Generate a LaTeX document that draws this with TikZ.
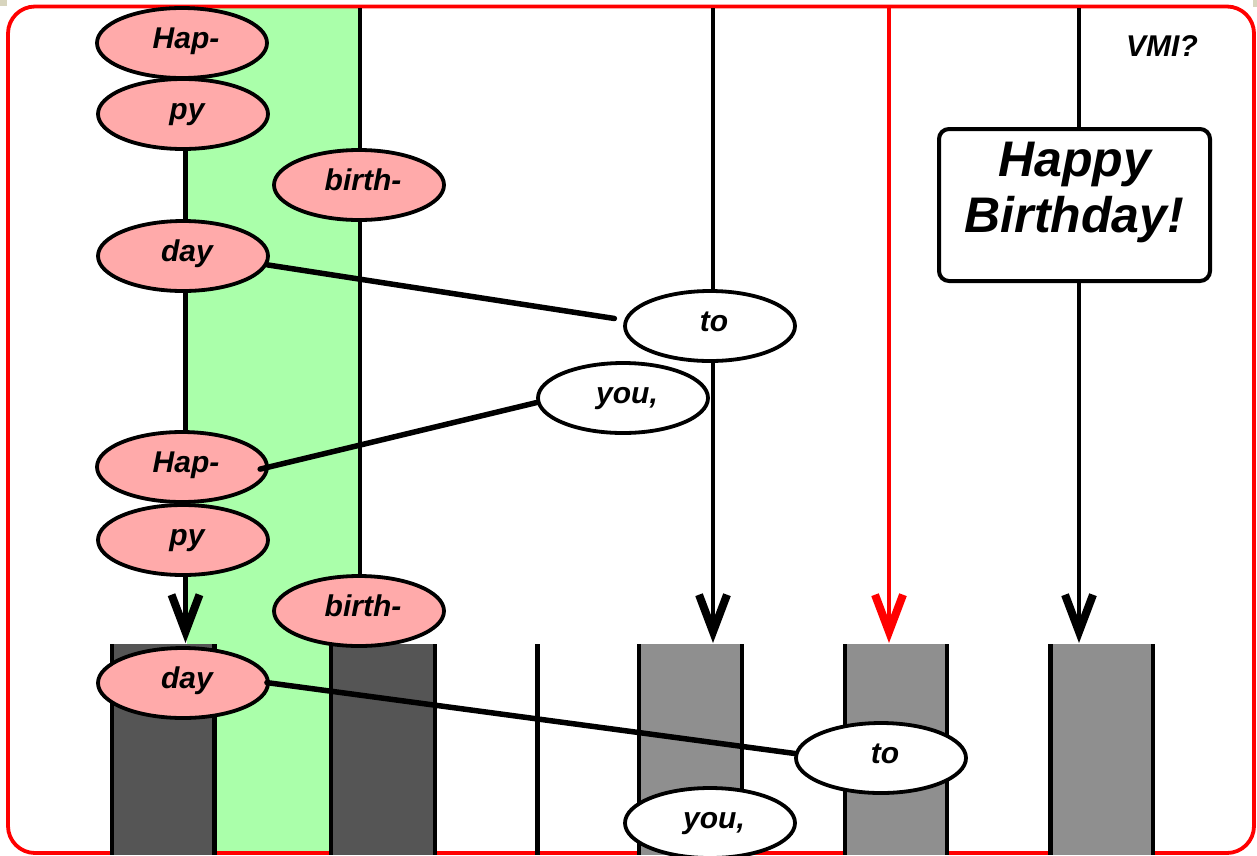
\documentclass[tikz,border=0pt]{standalone}
\usepackage{fontspec}
\setmainfont{Liberation Sans}
\usetikzlibrary{arrows.meta,shapes.geometric}
\definecolor{pinkfill}{HTML}{FFAAAA}
\definecolor{greenband}{HTML}{AAFFAA}
\definecolor{darkbar}{HTML}{555555}
\definecolor{lightbar}{HTML}{8F8F8F}
\definecolor{beige}{HTML}{D8D5BE}
\begin{document}
\begin{tikzpicture}[x=1pt,y=-1pt,
  word/.style={ellipse,draw=black,line width=3.8pt,minimum width=170pt,minimum height=70pt,inner sep=0pt,
    text height=20pt,text depth=10pt,execute at begin node={\hspace*{8pt}},
    font=\fontsize{30}{32}\selectfont\bfseries\itshape},
  pinkword/.style={word,fill=pinkfill},
  whiteword/.style={word,fill=white},
  vline/.style={line width=4.8pt},
  arrowline/.style={vline,-{Straight Barb[sharp,length=37pt,width=28pt,line width=8pt]}},
  conn/.style={line width=5.5pt,line cap=round},
  baredge/.style={line width=4.8pt},
  frame/.style={draw=red,line width=3.8pt,rounded corners=27pt},
]
\useasboundingbox (0,0) rectangle (1257,855);
% corner specks
\fill[beige] (0,0) rectangle (7,6);
\fill[beige] (1253,0) rectangle (1257,7);
% green band
\fill[greenband] (187,7) rectangle (360,855);
% frame
\draw[frame] (8,6.5) rectangle (1254,853);
% bars
\foreach \l/\r/\c in {112/214.5/darkbar, 331/435/darkbar, 639/742/lightbar, 845/947/lightbar, 1050.5/1153/lightbar}{
  \fill[\c] (\l,644) rectangle (\r,855);
  \draw[baredge] (\l,644) -- (\l,855);
  \draw[baredge] (\r,644) -- (\r,855);
}
\coordinate (m0) at (537.5,644);
\coordinate (m1) at (537.5,855);
\draw[baredge] (m0) -- (m1);
% vertical lines
\coordinate (t1) at (185.5,150);
\coordinate (a1) at (185.5,643);
\coordinate (t2) at (360,8);
\coordinate (b2) at (360,620);
\coordinate (t3) at (713,8);
\coordinate (a3) at (713,643);
\coordinate (t4) at (889,8);
\coordinate (a4) at (889,643);
\coordinate (t5) at (1079,8);
\coordinate (a5) at (1079,643);
\draw[arrowline] (t1) -- (a1);
\draw[vline] (t2) -- (b2);
\draw[arrowline] (t3) -- (a3);
\draw[arrowline,red] (t4) -- (a4);
\draw[arrowline] (t5) -- (a5);
% words, first verse
\node[pinkword] (HapA) at (182,43) {Hap-};
\node[pinkword] (pyA) at (183,114) {py};
\node[pinkword] (birthA) at (359,185) {birth-};
\node[pinkword] (dayA) at (183,256) {day};
\node[whiteword] (toA) at (710,326) {to};
\node[whiteword] (youA) at (623,398) {you,};
% words, second verse
\node[pinkword] (HapB) at (182,467) {Hap-};
\node[pinkword] (pyB) at (183,540) {py};
\node[pinkword] (birthB) at (359,611) {birth-};
\node[pinkword] (dayB) at (183,683) {day};
\node[whiteword] (toB) at (881,758) {to};
\node[whiteword] (youB) at (710,823) {you,};
% connectors
\draw[conn,shorten >=10pt] (dayA.-6) -- (toA.176);
\draw[conn,shorten <=-9pt] (HapB.east) -- (youA.183);
\draw[conn,shorten <=-3pt] (dayB.east) -- (toB.177);
% box and label
\node[draw,line width=4pt,rounded corners=10pt,fill=white,minimum width=271pt,minimum height=152pt,inner sep=0pt,align=center,font=\fontsize{50}{56}\selectfont\bfseries\itshape] (hb) at (1074.5,205) {Happy\\Birthday!\rule[-36pt]{0pt}{36pt}};
\node[inner sep=0pt,font=\fontsize{30}{32}\selectfont\bfseries\itshape] (vmi) at (1162,46) {VMI?};
\end{tikzpicture}
\end{document}
